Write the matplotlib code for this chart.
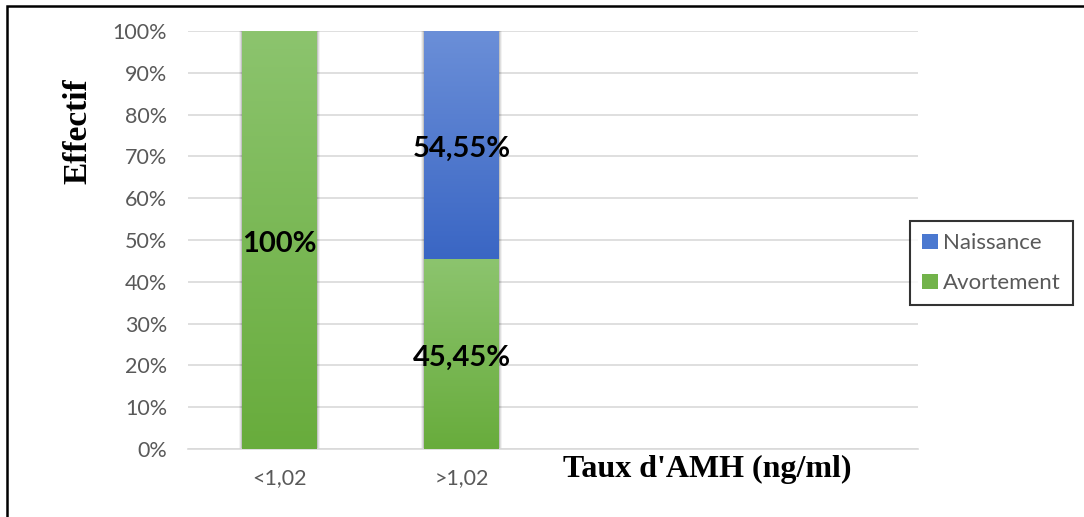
import numpy as np
import matplotlib.pyplot as plt
from matplotlib.colors import LinearSegmentedColormap
from matplotlib.patches import Rectangle, Patch

# stacked shares (%) per AMH class
categories = ["<1,02", ">1,02", "", ""]
avortement = [100.0, 45.45, 0, 0]
naissance = [0.0, 54.55, 0, 0]
labels_avort = ["100%", "45,45%"]
labels_naiss = ["", "54,55%"]

green_top, green_bot = "#8cc46e", "#68ac3c"
blue_top, blue_bot = "#6b8fd8", "#3a66c4"

plt.rcParams["font.family"] = ["Lato", "DejaVu Sans"]

fig = plt.figure(figsize=(10.84, 5.17), dpi=100)
ax = fig.add_axes([0.1734, 0.1315, 0.6735, 0.8085])

x = np.arange(len(categories))
width = 0.41


def gradient_bar(xc, bottom, height, top_col, bot_col):
    if height <= 0:
        return
    cmap = LinearSegmentedColormap.from_list("g", [bot_col, top_col])
    # soft shadow around the bar
    for i, a in enumerate([0.05, 0.08, 0.12]):
        pad = 0.018 - i * 0.006
        ax.add_patch(Rectangle((xc - width / 2 - pad, bottom), width + 2 * pad, height,
                               facecolor="black", alpha=a, edgecolor="none", zorder=2))
    rect = Rectangle((xc - width / 2, bottom), width, height,
                     facecolor="none", edgecolor="none", zorder=3)
    ax.add_patch(rect)
    grad = np.linspace(0, 1, 256).reshape(-1, 1)
    im = ax.imshow(grad, cmap=cmap, origin="lower", aspect="auto",
                   extent=(xc - width / 2, xc + width / 2, bottom, bottom + height),
                   zorder=3)
    im.set_clip_path(rect)


for i in range(len(categories)):
    gradient_bar(x[i], 0, avortement[i], green_top, green_bot)
    gradient_bar(x[i], avortement[i], naissance[i], blue_top, blue_bot)

# value labels, nudged slightly below segment centres
for i, lab in enumerate(labels_avort):
    ax.text(x[i], avortement[i] / 2 - 1, lab, ha="center", va="center",
            fontsize=21, fontweight="bold", color="black", zorder=5)
for i, lab in enumerate(labels_naiss):
    if lab:
        ax.text(x[i], avortement[i] + naissance[i] / 2 - 1, lab, ha="center", va="center",
                fontsize=21, fontweight="bold", color="black", zorder=5)

ax.set_xlim(-0.5, len(categories) - 0.5)
ax.set_ylim(0, 100)
ax.set_yticks(np.arange(0, 101, 10))
ax.set_yticklabels([f"{v}%" for v in range(0, 101, 10)])
ax.set_xticks(x[:2])
ax.set_xticklabels(categories[:2])
ax.tick_params(axis="both", length=0, colors="#595959", labelsize=15.5)
ax.tick_params(axis="x", pad=14)
ax.tick_params(axis="y", pad=15)
ax.grid(axis="y", color="#d9d9d9", linewidth=1.2, zorder=0)
ax.set_axisbelow(True)
for s in ["top", "right", "left"]:
    ax.spines[s].set_visible(False)
ax.spines["bottom"].set_color("#d9d9d9")
ax.spines["bottom"].set_linewidth(1.2)

fig.text(0.072, 0.747, "Effectif", rotation=90, ha="center", va="center",
         fontsize=24, fontweight="bold", family="Liberation Serif")
fig.text(0.652, 0.091, "Taux d'AMH (ng/ml)", ha="center", va="center",
         fontsize=23, fontweight="bold", family="Liberation Serif")

handles = [Patch(facecolor="#4a78d0", label="Naissance"),
           Patch(facecolor="#72b34a", label="Avortement")]
leg = fig.legend(handles=handles, loc="center left", bbox_to_anchor=(0.8395, 0.491),
                 frameon=True, fancybox=False, fontsize=16, labelcolor="#595959",
                 handlelength=0.7, handleheight=0.7, handletextpad=0.25,
                 labelspacing=0.9, borderpad=0.55, borderaxespad=0)
leg.get_frame().set_edgecolor("black")
leg.get_frame().set_linewidth(1.5)

# outer frame
fig.patches.append(Rectangle((7 / 1084, -0.1), 1.2, 1 - 6 / 517 + 0.1,
                             transform=fig.transFigure, fill=False,
                             edgecolor="black", linewidth=1.8, zorder=10))

fig.savefig("out.png", dpi=100)
